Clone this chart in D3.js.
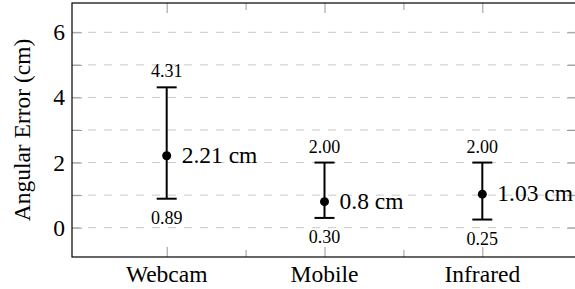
<!DOCTYPE html>
<html>
<head>
<meta charset="utf-8">
<script src="https://cdn.jsdelivr.net/npm/d3@7"></script>
<style>
  body { margin: 0; background: #fff; }
  svg { display: block; }
  svg text { font-family: 'Liberation Serif', 'Times New Roman', serif; }
</style>
</head>
<body>
<div id="chart"></div>
<script>
// data
const categories = ['Webcam', 'Mobile', 'Infrared'];
const means = [2.21, 0.8, 1.03];
const lows = [0.89, 0.30, 0.25];
const highs = [4.31, 2.00, 2.00];
const meanLabels = ['2.21 cm', '0.8 cm', '1.03 cm'];
const lowLabels = ['0.89', '0.30', '0.25'];
const highLabels = ['4.31', '2.00', '2.00'];
const yTickLabels = [0, 2, 4, 6];

const FONT = "'Liberation Serif', 'Times New Roman', serif";
const BIG = 23.5, SMALL = 18;
const W = 575, H = 289;
const margin = { top: 3, right: -2, bottom: 32, left: 72 };
const innerW = W - margin.left - margin.right;
const innerH = H - margin.top - margin.bottom;

const svg = d3.select('#chart').append('svg')
    .attr('width', W)
    .attr('height', H);

const g = svg.append('g')
    .attr('transform', `translate(${margin.left},${margin.top})`);

// categories sit at positions 1..3
const x = d3.scaleLinear().domain([0.4, 3.6]).range([0, innerW]);
const y = d3.scaleLinear().domain([-0.9, 6.9]).range([innerH, 0]);

const pos = categories.map((c, i) => i + 1);

// dashed grid at every integer
g.append('g')
    .selectAll('line')
    .data(d3.range(0, 7))
    .enter().append('line')
    .attr('x1', 0).attr('x2', innerW)
    .attr('y1', d => y(d)).attr('y2', d => y(d))
    .attr('stroke', '#c8c8c8')
    .attr('stroke-width', 1)
    .attr('stroke-dasharray', '8,8');

// inward ticks, y on left/right
const yTicks = d3.range(0, 7);
g.append('g')
    .call(d3.axisLeft(y).tickValues(yTicks).tickSize(-10).tickFormat(''))
    .call(a => a.select('.domain').remove())
    .selectAll('line').attr('stroke', '#999');
g.append('g')
    .attr('transform', `translate(${innerW},0)`)
    .call(d3.axisRight(y).tickValues(yTicks).tickSize(-10).tickFormat(''))
    .call(a => a.select('.domain').remove())
    .selectAll('line').attr('stroke', '#999');

// y labels
g.append('g')
    .selectAll('text')
    .data(yTickLabels)
    .enter().append('text')
    .attr('x', -7)
    .attr('y', d => y(d) + 8)
    .attr('text-anchor', 'end')
    .attr('font-family', FONT)
    .attr('font-size', BIG)
    .text(d => d);

// x ticks top/bottom: major at categories, minor between
const majorX = pos;
const minorX = [1.5, 2.5];
[[majorX, 10], [minorX, 7]].forEach(([vals, len]) => {
    g.append('g')
        .attr('transform', `translate(0,${innerH})`)
        .call(d3.axisBottom(x).tickValues(vals).tickSize(-len).tickFormat(''))
        .call(a => a.select('.domain').remove())
        .selectAll('line').attr('stroke', '#999');
    g.append('g')
        .call(d3.axisTop(x).tickValues(vals).tickSize(-len).tickFormat(''))
        .call(a => a.select('.domain').remove())
        .selectAll('line').attr('stroke', '#999');
});

// x labels
g.append('g')
    .selectAll('text')
    .data(categories)
    .enter().append('text')
    .attr('x', (d, i) => x(pos[i]))
    .attr('y', innerH + 25)
    .attr('text-anchor', 'middle')
    .attr('font-family', FONT)
    .attr('font-size', BIG)
    .text(d => d);

// frame
g.append('rect')
    .attr('width', innerW).attr('height', innerH)
    .attr('fill', 'none')
    .attr('stroke', '#000')
    .attr('stroke-width', 1.2);

// error bars
const bars = g.append('g')
    .selectAll('g')
    .data(categories)
    .enter().append('g');

bars.append('line')
    .attr('x1', (d, i) => x(pos[i])).attr('x2', (d, i) => x(pos[i]))
    .attr('y1', (d, i) => y(lows[i])).attr('y2', (d, i) => y(highs[i]))
    .attr('stroke', '#000').attr('stroke-width', 2);

[lows, highs].forEach(arr => {
    bars.append('line')
        .attr('x1', (d, i) => x(pos[i]) - 10).attr('x2', (d, i) => x(pos[i]) + 10)
        .attr('y1', (d, i) => y(arr[i])).attr('y2', (d, i) => y(arr[i]))
        .attr('stroke', '#000').attr('stroke-width', 2);
});

bars.append('circle')
    .attr('cx', (d, i) => x(pos[i]))
    .attr('cy', (d, i) => y(means[i]))
    .attr('r', 4.5)
    .attr('fill', '#000');

bars.append('text')
    .attr('x', (d, i) => x(pos[i]) + 15)
    .attr('y', (d, i) => y(means[i]) + 7)
    .attr('font-family', FONT)
    .attr('font-size', BIG)
    .text((d, i) => meanLabels[i]);

bars.append('text')
    .attr('x', (d, i) => x(pos[i]))
    .attr('y', (d, i) => y(highs[i]) - 10)
    .attr('text-anchor', 'middle')
    .attr('font-family', FONT)
    .attr('font-size', SMALL)
    .text((d, i) => highLabels[i]);

bars.append('text')
    .attr('x', (d, i) => x(pos[i]))
    .attr('y', (d, i) => y(lows[i]) + 25)
    .attr('text-anchor', 'middle')
    .attr('font-family', FONT)
    .attr('font-size', SMALL)
    .text((d, i) => lowLabels[i]);

// y title
svg.append('text')
    .attr('transform', `translate(30,${margin.top + innerH / 2}) rotate(-90)`)
    .attr('text-anchor', 'middle')
    .attr('font-family', FONT)
    .attr('font-size', BIG)
    .text('Angular Error (cm)');
</script>
</body>
</html>
